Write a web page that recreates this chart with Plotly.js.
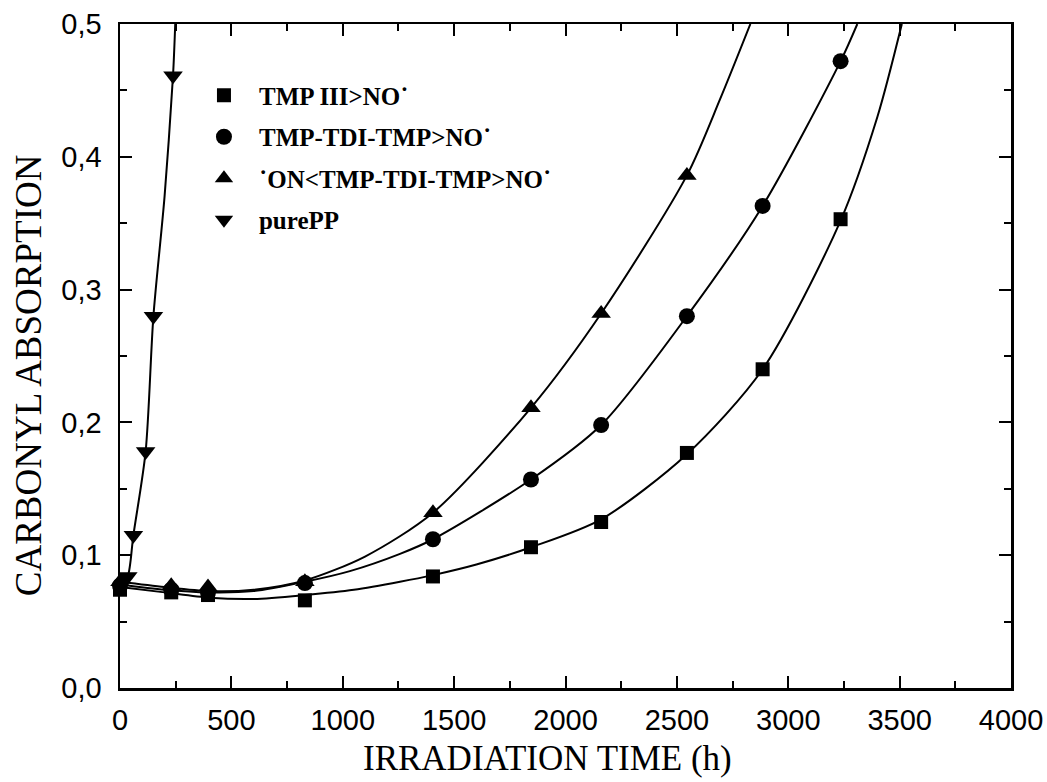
<!DOCTYPE html>
<html>
<head>
<meta charset="utf-8">
<script src="https://cdn.plot.ly/plotly-3.0.1.min.js"></script>
<style>html,body{margin:0;padding:0;background:#fff;}#chart{width:1047px;height:782px;}</style>
</head>
<body>
<div id="chart"></div>
<script>
// Measured points
const seriesNames = ['TMP III&gt;NO\u02D9', 'TMP-TDI-TMP&gt;NO\u02D9', '\u02D9ON&lt;TMP-TDI-TMP&gt;NO\u02D9', 'purePP'];
const sqX = [0, 230, 395, 830, 1405, 1845, 2160, 2545, 2885, 3235];
const sqY = [0.074, 0.072, 0.070, 0.066, 0.084, 0.106, 0.125, 0.177, 0.240, 0.353];
const ciX = [0, 230, 395, 830, 1405, 1845, 2160, 2545, 2885, 3235];
const ciY = [0.077, 0.074, 0.072, 0.079, 0.112, 0.157, 0.198, 0.280, 0.363, 0.472];
const trX = [0, 230, 395, 830, 1405, 1845, 2160, 2545];
const trY = [0.080, 0.077, 0.076, 0.080, 0.132, 0.211, 0.282, 0.386];
const ppX = [35, 60, 115, 150, 238];
const ppY = [0.084, 0.115, 0.178, 0.280, 0.461];

// Fitted curves
const sqFitX = [0, 200, 400, 600, 830, 1050, 1257, 1405, 1600, 1845, 2160, 2545, 2885, 3235, 3400, 3510];
const sqFitY = [0.076, 0.072, 0.068, 0.067, 0.070, 0.074, 0.080, 0.085, 0.093, 0.106, 0.127, 0.176, 0.240, 0.352, 0.430, 0.500];
const ciFitX = [0, 200, 400, 600, 830, 1032, 1257, 1405, 1845, 2160, 2545, 2885, 3235, 3310];
const ciFitY = [0.078, 0.074, 0.072, 0.073, 0.080, 0.088, 0.101, 0.112, 0.157, 0.198, 0.280, 0.363, 0.472, 0.500];
const trFitX = [0, 200, 400, 600, 830, 1100, 1405, 1845, 2160, 2545, 2693, 2830];
const trFitY = [0.080, 0.076, 0.073, 0.074, 0.081, 0.099, 0.132, 0.211, 0.282, 0.386, 0.443, 0.500];
const ppFitX = [0, 35, 60, 115, 150, 200, 238, 248];
const ppFitY = [0.075, 0.084, 0.115, 0.178, 0.280, 0.370, 0.461, 0.500];

const xTicks = [0, 500, 1000, 1500, 2000, 2500, 3000, 3500, 4000];
const yTicks = [0.0, 0.1, 0.2, 0.3, 0.4, 0.5];
const xTitle = 'IRRADIATION TIME (h)';
const yTitle = 'CARBONYL ABSORPTION';

const black = '#000000';
function fit(x, y) {
  return {x: x, y: y, mode: 'lines', type: 'scatter', showlegend: false, hoverinfo: 'skip',
    line: {color: black, width: 2, shape: 'spline', smoothing: 0.8}};
}
function pts(x, y, sym, size, name, grp) {
  return {x: x, y: y, mode: 'markers', type: 'scatter', name: '<b>' + name + '</b>', legendgroup: grp,
    cliponaxis: false, marker: {symbol: sym, size: size, color: black, line: {width: 0}}};
}

const data = [
  fit(sqFitX, sqFitY), fit(ciFitX, ciFitY), fit(trFitX, trFitY), fit(ppFitX, ppFitY),
  pts(sqX, sqY, 'square', 14, seriesNames[0], 'a'),
  pts(ciX, ciY, 'circle', 16, seriesNames[1], 'b'),
  pts(trX, trY, 'triangle-up', 17, seriesNames[2], 'c'),
  pts(ppX, ppY, 'triangle-down', 17, seriesNames[3], 'd')
];

const tickFont = {family: 'Liberation Sans, Arial, sans-serif', size: 29, color: black};
const serif = 'Liberation Serif, Times New Roman, serif';

const layout = {
  width: 1047, height: 782,
  margin: {l: 120, r: 36, t: 24, b: 94},
  paper_bgcolor: '#ffffff', plot_bgcolor: '#ffffff',
  separators: ',.',
  showlegend: true,
  legend: {x: 0.0774, y: 0.927, xanchor: 'left', yanchor: 'top', bgcolor: 'rgba(0,0,0,0)', borderwidth: 0,
    font: {family: serif, size: 25, color: black},
    tracegroupgap: 6, traceorder: 'grouped', itemwidth: 60},
  xaxis: {
    range: [0, 4000], tickmode: 'array', tickvals: xTicks, ticktext: xTicks.map(String),
    ticks: 'inside', ticklen: 12, tickwidth: 2, tickcolor: black,
    showline: true, linewidth: 2.5, linecolor: black, mirror: 'ticks',
    minor: {ticks: 'inside', ticklen: 7, tickwidth: 2, dtick: 250, tick0: 0, tickcolor: black, showgrid: false},
    showgrid: false, zeroline: false, tickfont: tickFont, ticklabelstandoff: 5
  },
  yaxis: {
    range: [0, 0.5], tickmode: 'array', tickvals: yTicks, ticktext: yTicks.map(v => v.toFixed(1).replace('.', ',')),
    ticks: 'inside', ticklen: 12, tickwidth: 2, tickcolor: black,
    showline: true, linewidth: 2.5, linecolor: black, mirror: 'ticks',
    minor: {ticks: 'inside', ticklen: 7, tickwidth: 2, dtick: 0.05, tick0: 0, tickcolor: black, showgrid: false},
    showgrid: false, zeroline: false, tickfont: tickFont, ticklabelstandoff: 10
  },
  annotations: [
    {text: xTitle, xref: 'paper', yref: 'paper', x: 0.480, y: -0.1069, xanchor: 'center', yanchor: 'middle',
      showarrow: false, font: {family: serif, size: 35, color: black}},
    {text: yTitle, xref: 'paper', yref: 'paper', x: -0.1033, y: 0.471, xanchor: 'center', yanchor: 'middle',
      textangle: -90, showarrow: false, font: {family: serif, size: 37, color: black}}
  ]
};

Plotly.newPlot('chart', data, layout, {displayModeBar: false, staticPlot: true});
</script>
</body>
</html>
